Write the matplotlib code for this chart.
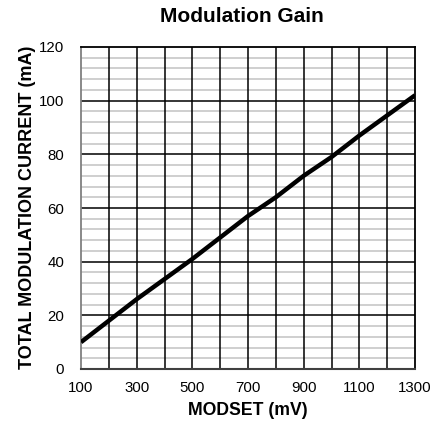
import matplotlib
matplotlib.use("Agg")
import matplotlib.pyplot as plt
import numpy as np

plt.rcParams['font.family'] = ['Liberation Sans', 'DejaVu Sans']

modset_mv = [100, 200, 300, 400, 500, 600, 700, 800, 900, 1000, 1100, 1200, 1300]
current_ma = [10, 18, 26, 33.5, 41, 49, 57, 64, 72, 79, 87, 94.5, 102]

x_ticks = [100, 300, 500, 700, 900, 1100, 1300]
y_ticks = [0, 20, 40, 60, 80, 100, 120]

fig = plt.figure(figsize=(4.48, 4.25), dpi=100)
ax = fig.add_axes([81/448, 1 - 369/425, (415 - 81)/448, (369 - 47)/425])

ax.set_xlim(100, 1300)
ax.set_ylim(0, 120)

# minor horizontal grid (light gray)
for y in np.arange(0, 121, 4):
    if y % 20 != 0:
        ax.axhline(y, color='#cccccc', lw=1.3, zorder=1)
# major horizontal grid
for y in y_ticks[1:-1]:
    ax.axhline(y, color='black', lw=1.1, zorder=2)
# vertical grid every 100
for x in range(200, 1300, 100):
    ax.axvline(x, color='black', lw=1.1, zorder=2)

ax.plot(modset_mv, current_ma, color='black', lw=3.2, zorder=3, solid_capstyle='butt')

ax.set_xticks(x_ticks)
ax.set_yticks(y_ticks)
ax.tick_params(length=0, labelsize=10.8)
ax.tick_params(axis='x', pad=9)
ax.tick_params(axis='y', pad=12)

for s in ['top', 'right']:
    ax.spines[s].set_color('black')
    ax.spines[s].set_linewidth(1.3)
ax.spines['left'].set_color('#808080')
ax.spines['left'].set_linewidth(1.3)
ax.spines['bottom'].set_color('#404040')
ax.spines['bottom'].set_linewidth(1.5)

ax.set_xlabel('MODSET (mV)', fontsize=12.7, fontweight='bold', labelpad=5)
ax.set_ylabel('TOTAL MODULATION CURRENT (mA)', fontsize=13, fontweight='bold')
ax.yaxis.set_label_coords(-0.135, 0.503)
fig.text(242/448, 1 - 17/425, 'Modulation Gain', fontsize=15, fontweight='bold', ha='center', va='center')

fig.savefig('out.png', dpi=100)
